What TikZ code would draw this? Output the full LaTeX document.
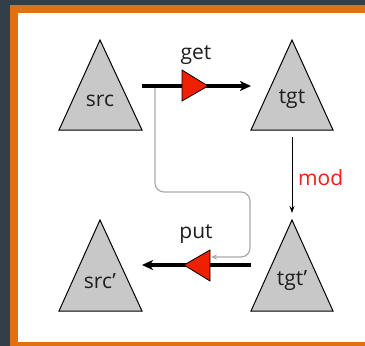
\documentclass[tikz,border=0pt]{standalone}
\usepackage{fontspec}
\setmainfont{Open Sans}
\usetikzlibrary{arrows.meta}
\definecolor{bgdark}{RGB}{50,63,73}
\definecolor{frameorange}{RGB}{222,114,18}
\definecolor{trigray}{RGB}{200,200,200}
\definecolor{redfill}{RGB}{238,32,0}
\definecolor{modred}{RGB}{240,30,20}
\definecolor{linegray}{RGB}{170,170,170}
\definecolor{textdark}{RGB}{30,30,30}
\tikzset{
  tri/.style={draw=black, line width=1pt, fill=trigray, line join=miter},
  lbl/.style={inner sep=0pt, text=textdark, font=\fontsize{21}{24}\selectfont},
  bigarrow/.style={line width=3.6pt, -{Stealth[length=11pt,width=10pt,inset=3pt]}},
  redtri/.style={draw=black, line width=0.8pt, fill=redfill},
  thinarrow/.style={line width=1pt, -{Stealth[length=7pt,width=5pt]}},
  grayarrow/.style={draw=linegray, line width=1.2pt, rounded corners=9pt, -{Stealth[length=6pt,width=5pt,inset=2pt]}}
}
\begin{document}
\begin{tikzpicture}[x=1pt,y=-1pt]
\useasboundingbox (0,0) rectangle (365,346);
\fill[bgdark] (0,0) rectangle (365,346);
\fill[frameorange] (10,5) rectangle (365,346);
\fill[white] (18,13) rectangle (365,342);
% triangles
\draw[tri] (100,40) -- (142,130) -- (59,130) -- cycle;
\draw[tri] (292,40) -- (333,130) -- (251,130) -- cycle;
\draw[tri] (100,220) -- (142,311) -- (59,311) -- cycle;
\draw[tri] (292,220) -- (333,311) -- (251,311) -- cycle;
\node[lbl] (src) at (100,101) {src};
\node[lbl] (tgt) at (292,99) {tgt};
\node[lbl] (srcp) at (100,281) {src'};
\node[lbl] (tgtp) at (292,281) {tgt'};
% connector endpoints
\coordinate (getS) at (142,86);
\coordinate (getE) at (251,86);
\coordinate (putS) at (251,265);
\coordinate (putE) at (142,265);
\coordinate (modS) at (292,137);
\coordinate (modE) at (292,213);
\coordinate (gS) at (155,86);
\coordinate (gE) at (211,257);
% gray path
\draw[grayarrow] (gS) -- (155,192) -- (250,192) -- (250,257) -- (gE);
% get / put
\draw[bigarrow] (getS) -- (getE);
\draw[bigarrow] (putS) -- (putE);
\draw[redtri] (182,70) -- (208,86) -- (182,101) -- cycle;
\draw[redtri] (210,250) -- (184,265) -- (210,281) -- cycle;
\node[lbl] (get) at (196,55) {get};
\node[lbl] (put) at (196,234) {put};
% mod
\draw[thinarrow] (modS) -- (modE);
\node[lbl, text=modred, anchor=west] (mod) at (298,178) {mod};
\end{tikzpicture}
\end{document}
